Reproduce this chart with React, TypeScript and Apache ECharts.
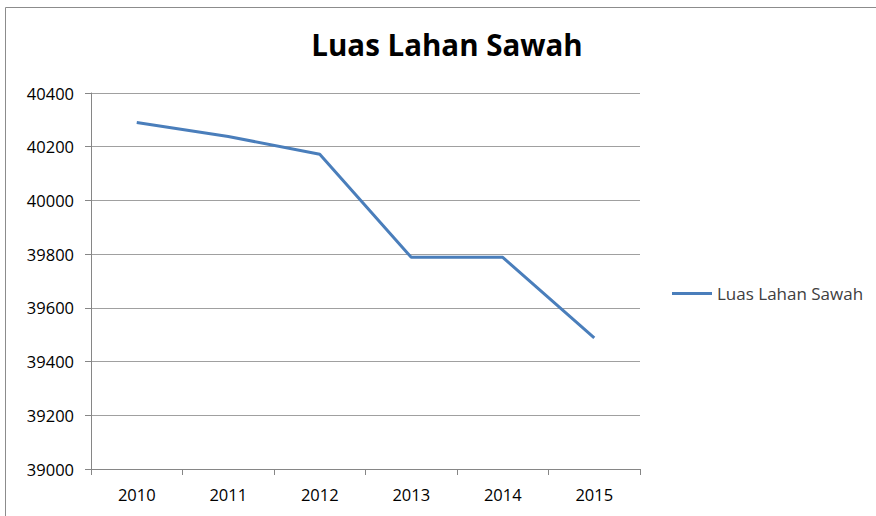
import React, { useEffect, useRef } from "react";
import * as echarts from "echarts";

const title = "Luas Lahan Sawah";
const seriesName = "Luas Lahan Sawah";
const years = ["2010", "2011", "2012", "2013", "2014", "2015"];
const values = [40290, 40238, 40172, 39788, 39788, 39488];
const yMin = 39000;
const yMax = 40400;
const yStep = 200;

export default function App() {
  const ref = useRef<HTMLDivElement>(null);
  useEffect(() => {
    if (!ref.current) return;
    const chart = echarts.init(ref.current, null, { renderer: "svg" });
    chart.setOption({
      animation: false,
      backgroundColor: "#ffffff",
      title: {
        text: title,
        left: 447,
        textAlign: "center",
        top: 29,
        padding: 0,
        textStyle: {
          fontFamily: "Open Sans",
          fontWeight: "bold",
          fontSize: 29.5,
          color: "#000000",
        },
      },
      graphic: [
        {
          type: "rect",
          shape: { x: 5.5, y: 7.5, width: 900, height: 600 },
          style: { fill: "none", stroke: "#8c8c8c", lineWidth: 1 },
          silent: true,
        },
      ],
      legend: {
        left: 672,
        top: 285,
        padding: 0,
        orient: "vertical",
        icon: "rect",
        itemWidth: 40,
        itemHeight: 3,
        itemGap: 5,
        textStyle: {
          fontFamily: "Open Sans",
          fontSize: 17,
          color: "#404040",
        },
        data: [seriesName],
      },
      grid: { left: 91, right: 236, top: 93, bottom: 47, containLabel: false },
      xAxis: {
        type: "category",
        data: years,
        boundaryGap: true,
        axisLine: { lineStyle: { color: "#868686", width: 1 } },
        axisTick: { show: true, alignWithLabel: false, length: 6, lineStyle: { color: "#868686" } },
        axisLabel: {
          fontFamily: "Open Sans",
          fontSize: 16.5,
          color: "#000000",
          margin: 17,
        },
        splitLine: { show: false },
      },
      yAxis: {
        type: "value",
        min: yMin,
        max: yMax,
        interval: yStep,
        axisLine: { show: true, lineStyle: { color: "#868686", width: 1 } },
        axisTick: { show: true, length: 6, lineStyle: { color: "#868686" } },
        axisLabel: {
          fontFamily: "Open Sans",
          fontSize: 16.5,
          color: "#000000",
          margin: 17,
          formatter: (v: number) => String(v),
        },
        splitLine: { show: true, lineStyle: { color: "#a0a0a0", width: 1 } },
      },
      series: [
        {
          name: seriesName,
          type: "line",
          data: values,
          showSymbol: false,
          symbol: "none",
          lineStyle: { color: "#4a7ebb", width: 3 },
          itemStyle: { color: "#4a7ebb" },
        },
      ],
    });
    return () => chart.dispose();
  }, []);
  return (
    <div
      ref={ref}
      style={{ position: "absolute", left: 0, top: 0, width: 876, height: 516 }}
    />
  );
}
